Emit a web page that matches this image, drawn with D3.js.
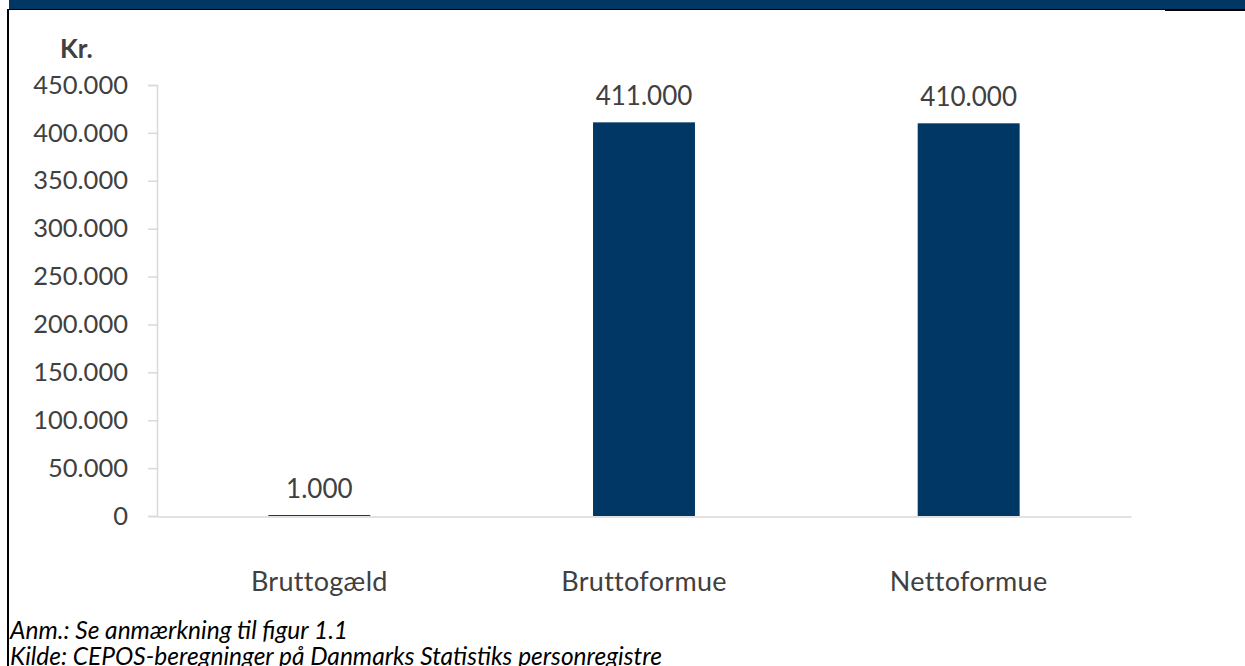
<!DOCTYPE html>
<html>
<head>
  <meta charset="utf-8">
  <title>Formue</title>
  <style>
    body { margin: 0; background: #fff; }
    text { font-family: Lato, "Open Sans", sans-serif; fill: #404040; }
  </style>
</head>
<body>
<script src="https://d3js.org/d3.v7.min.js"></script>
<script>
  var categories = ['Bruttogæld', 'Bruttoformue', 'Nettoformue'];
  var values = [1000, 411000, 410000];
  var yTicks = [0, 50000, 100000, 150000, 200000, 250000, 300000, 350000, 400000, 450000];
  var notes = ['Anm.: Se anmærkning til figur 1.1',
               'Kilde: CEPOS-beregninger på Danmarks Statistiks personregistre'];

  var width = 1245;
  var height = 666;
  var navy = '#003764';
  var axisGrey = '#d9d9d9';

  var dk = d3.formatLocale({ decimal: ',', thousands: '.', grouping: [3], currency: ['', ' kr.'] });
  var fmt = dk.format(',.0f');

  var svg = d3.select('body')
    .append('svg')
      .attr('width', width)
      .attr('height', height);

  // frame: blue band on top, black rule underneath and on the left
  svg.append('rect')
    .attr('x', 9).attr('y', 0)
    .attr('width', width - 9).attr('height', 9)
    .attr('fill', navy);
  svg.append('line')
    .attr('x1', 8).attr('x2', 1165).attr('y1', 9.5).attr('y2', 9.5)
    .attr('stroke', '#000').attr('stroke-width', 1);
  svg.append('line')
    .attr('x1', 1165).attr('x2', width).attr('y1', 10).attr('y2', 10)
    .attr('stroke', '#000').attr('stroke-width', 2);
  svg.append('line')
    .attr('x1', 8).attr('x2', 8).attr('y1', 9).attr('y2', height)
    .attr('stroke', '#000').attr('stroke-width', 2);

  var x = d3.scaleBand()
    .domain(categories)
    .range([157, 1131])
    .paddingInner(0.686)
    .paddingOuter(0.343);

  var y = d3.scaleLinear()
    .domain([0, 450000])
    .range([516, 85]);

  // y axis
  var yAxis = svg.append('g')
    .attr('transform', 'translate(157,0)')
    .call(d3.axisLeft(y)
      .tickValues(yTicks)
      .tickFormat(fmt)
      .tickSize(9)
      .tickSizeOuter(9)
      .tickPadding(20));
  yAxis.selectAll('path, line')
    .attr('stroke', axisGrey)
    .attr('stroke-width', 1.5);
  yAxis.selectAll('text')
    .attr('font-size', 25.5)
    .attr('font-family', 'Lato, sans-serif')
    .attr('fill', '#404040');

  // x axis
  var xAxis = svg.append('g')
    .attr('transform', 'translate(0,516.5)')
    .call(d3.axisBottom(x).tickSize(0).tickSizeOuter(0).tickPadding(55));
  xAxis.select('.domain')
    .attr('stroke', axisGrey)
    .attr('stroke-width', 1.5);
  xAxis.selectAll('text')
    .attr('font-size', 27)
    .attr('font-family', 'Lato, sans-serif')
    .attr('letter-spacing', 0.3)
    .attr('fill', '#404040');

  // bars
  svg.selectAll('.bar')
    .data(values)
    .enter()
    .append('rect')
      .attr('class', 'bar')
      .attr('x', function(d, i) { return x(categories[i]); })
      .attr('y', function(d) { return y(d); })
      .attr('width', x.bandwidth())
      .attr('height', function(d) { return y(0) - y(d); })
      .attr('fill', navy);

  // value labels
  svg.selectAll('.val')
    .data(values)
    .enter()
    .append('text')
      .attr('class', 'val')
      .attr('x', function(d, i) { return x(categories[i]) + x.bandwidth() / 2; })
      .attr('y', function(d) { return y(d) - 17; })
      .attr('text-anchor', 'middle')
      .attr('font-size', 26)
      .text(function(d) { return fmt(d); });

  // unit
  svg.append('text')
    .attr('x', 60)
    .attr('y', 58)
    .attr('font-size', 26)
    .attr('font-weight', 'bold')
    .text('Kr.');

  // notes
  svg.selectAll('.note')
    .data(notes)
    .enter()
    .append('text')
      .attr('class', 'note')
      .attr('x', 10)
      .attr('y', function(d, i) { return 639 + i * 26; })
      .attr('font-size', 24.5)
      .attr('font-style', 'italic')
      .style('fill', '#000')
      .text(function(d) { return d; });
</script>
</body>
</html>
